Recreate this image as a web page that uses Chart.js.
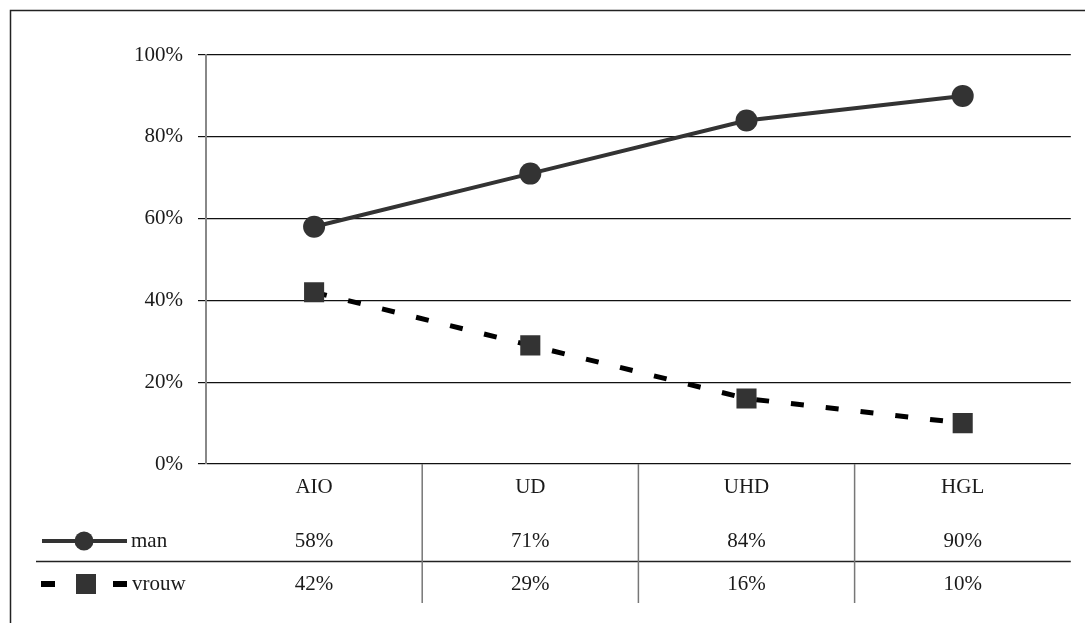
<!DOCTYPE html>
<html>
<head>
<meta charset="utf-8">
<script src="https://cdn.jsdelivr.net/npm/chart.js@4/dist/chart.umd.min.js"></script>
<style>
  html, body { margin: 0; padding: 0; background: #fff; }
  #wrap { width: 1085px; height: 623px; position: relative; }
</style>
</head>
<body>
<div id="wrap"><canvas id="c" width="1085" height="623"></canvas></div>
<script>
// Categories and series (share of men / women per function level, in %)
const categories = ['AIO', 'UD', 'UHD', 'HGL'];
const manValues = [58, 71, 84, 90];
const vrouwValues = [42, 29, 16, 10];
const seriesNames = ['man', 'vrouw'];
const yTicks = [0, 20, 40, 60, 80, 100];

const FONT = '"Liberation Serif", "DejaVu Serif", serif';
const FONT_SIZE = 21;
const TEXT = '#1a1a1a';
const MARK = '#333333';

// Frame, data table grid, table values and legend keys
const tablePlugin = {
  id: 'dataTable',
  afterDraw(chart) {
    const ctx = chart.ctx;
    const x = chart.scales.x;
    const area = chart.chartArea;
    const rowMan = 541, rowVrouw = 584, rowSep = 561, tableBottom = 603;
    ctx.save();

    // outer frame (top and left edge)
    ctx.strokeStyle = '#222';
    ctx.lineWidth = 1.5;
    ctx.beginPath();
    ctx.moveTo(1090, 10.5);
    ctx.lineTo(10.5, 10.5);
    ctx.lineTo(10.5, 630);
    ctx.stroke();

    // row separator between the two series rows
    ctx.strokeStyle = '#222';
    ctx.lineWidth = 1.5;
    ctx.beginPath();
    ctx.moveTo(36, rowSep + 0.5);
    ctx.lineTo(area.right, rowSep + 0.5);
    ctx.stroke();

    // column separators between categories
    ctx.strokeStyle = '#777';
    ctx.lineWidth = 1.5;
    for (let i = 1; i < categories.length; i++) {
      const px = (x.getPixelForValue(i - 1) + x.getPixelForValue(i)) / 2;
      ctx.beginPath();
      ctx.moveTo(px, area.bottom);
      ctx.lineTo(px, tableBottom);
      ctx.stroke();
    }

    // table values
    ctx.fillStyle = TEXT;
    ctx.font = FONT_SIZE + 'px ' + FONT;
    ctx.textAlign = 'center';
    ctx.textBaseline = 'middle';
    categories.forEach((c, i) => {
      const px = x.getPixelForValue(i);
      ctx.fillText(manValues[i] + '%', px, rowMan);
      ctx.fillText(vrouwValues[i] + '%', px, rowVrouw);
    });

    // legend key: man (solid line with circle)
    ctx.strokeStyle = MARK;
    ctx.lineWidth = 4;
    ctx.beginPath();
    ctx.moveTo(42, rowMan);
    ctx.lineTo(127, rowMan);
    ctx.stroke();
    ctx.fillStyle = MARK;
    ctx.beginPath();
    ctx.arc(84, rowMan, 9.5, 0, Math.PI * 2);
    ctx.fill();

    // legend key: vrouw (dashed line with square)
    ctx.fillStyle = '#000';
    ctx.fillRect(41, rowVrouw - 3, 14, 6);
    ctx.fillRect(113, rowVrouw - 3, 14, 6);
    ctx.fillStyle = MARK;
    ctx.fillRect(76, rowVrouw - 10, 20, 20);

    ctx.fillStyle = TEXT;
    ctx.textAlign = 'left';
    ctx.fillText(seriesNames[0], 131, rowMan);
    ctx.fillText(seriesNames[1], 132, rowVrouw);
    ctx.restore();
  }
};

new Chart(document.getElementById('c'), {
  type: 'line',
  data: {
    labels: categories,
    datasets: [
      {
        label: seriesNames[0],
        data: manValues,
        borderColor: MARK,
        backgroundColor: MARK,
        borderWidth: 4,
        pointStyle: 'circle',
        pointRadius: 11,
        pointBorderWidth: 0,
        pointBackgroundColor: MARK,
        tension: 0
      },
      {
        label: seriesNames[1],
        data: vrouwValues,
        borderColor: '#000',
        backgroundColor: MARK,
        borderWidth: 5,
        borderDash: [13, 22],
        borderCapStyle: 'butt',
        pointStyle: 'rect',
        pointRadius: 14.2,
        pointBorderWidth: 0,
        pointBackgroundColor: MARK,
        tension: 0
      }
    ]
  },
  options: {
    responsive: false,
    animation: false,
    events: [],
    layout: { padding: { left: 0, top: 55, right: 11, bottom: 0 } },
    plugins: { legend: { display: false }, tooltip: { enabled: false } },
    scales: {
      x: {
        type: 'category',
        offset: true,
        grid: { display: false, drawTicks: false },
        border: { display: false },
        ticks: { color: TEXT, font: { family: FONT, size: FONT_SIZE }, padding: 11, maxRotation: 0 },
        afterFit(s) { s.height = 159; s.paddingLeft = 0; s.paddingRight = 0; }
      },
      y: {
        min: 0,
        max: 100,
        afterBuildTicks(s) { s.ticks = yTicks.map(v => ({ value: v })); },
        grid: { color: '#111', lineWidth: 1.2, tickLength: 8, drawTicks: true },
        border: { color: '#888', width: 2 },
        ticks: {
          color: TEXT,
          font: { family: FONT, size: FONT_SIZE },
          padding: 15,
          callback: v => v + '%'
        },
        afterFit(s) { s.width = 206; }
      }
    }
  },
  plugins: [tablePlugin]
});
</script>
</body>
</html>
